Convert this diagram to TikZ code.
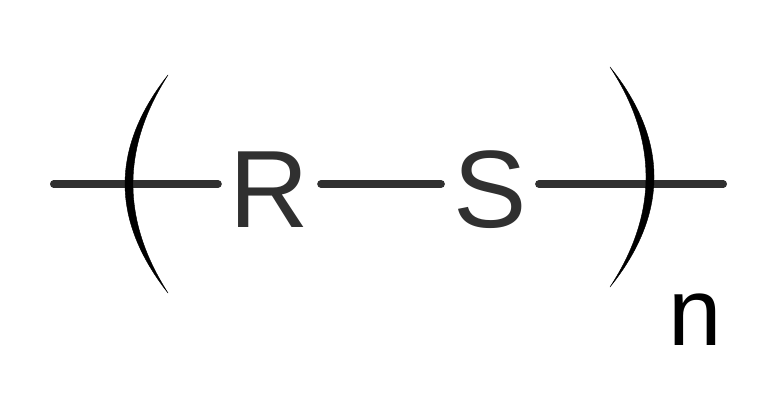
\documentclass[tikz,border=0pt]{standalone}
\usepackage{fontspec}
\setmainfont{Liberation Sans}
\definecolor{ink}{HTML}{303030}
\begin{document}
\begin{tikzpicture}[x=1pt,y=1pt,
  atom/.style={font=\fontsize{110}{110}\selectfont, inner sep=0pt, text=ink, anchor=base},
  idx/.style={font=\fontsize{96}{96}\selectfont, inner sep=0pt, text=black, anchor=base},
  bond/.style={draw=ink, line width=7.5pt, line cap=round},
  brack/.style={fill=black, draw=black, line width=0.4pt}]
\useasboundingbox (0,0) rectangle (772,408);
\node[atom] (R) at (269.5,181) {R};
\node[atom] (S) at (490,181) {S};
\node[idx] (n) at (695,63) {n};
\coordinate (a1) at (53.75,224);
\coordinate (a2) at (723.25,224);
\draw[bond] (a1) -- ([xshift=-11.5pt]R.west |- a1);
\draw[bond] ([xshift=11.5pt]R.east |- a1) -- ([xshift=-12pt]S.west |- a1);
\draw[bond] ([xshift=12pt]S.east |- a1) -- (a2);
% left bracket
\fill[brack] (168,333) .. controls (110.7,260) and (110.7,188) .. (168,115)
  .. controls (121.3,188) and (121.3,260) .. (168,333) -- cycle;
% right bracket
\fill[brack] (610,341) .. controls (668.7,268) and (668.7,194) .. (610,121)
  .. controls (658,194) and (658,268) .. (610,341) -- cycle;
\end{tikzpicture}
\end{document}
